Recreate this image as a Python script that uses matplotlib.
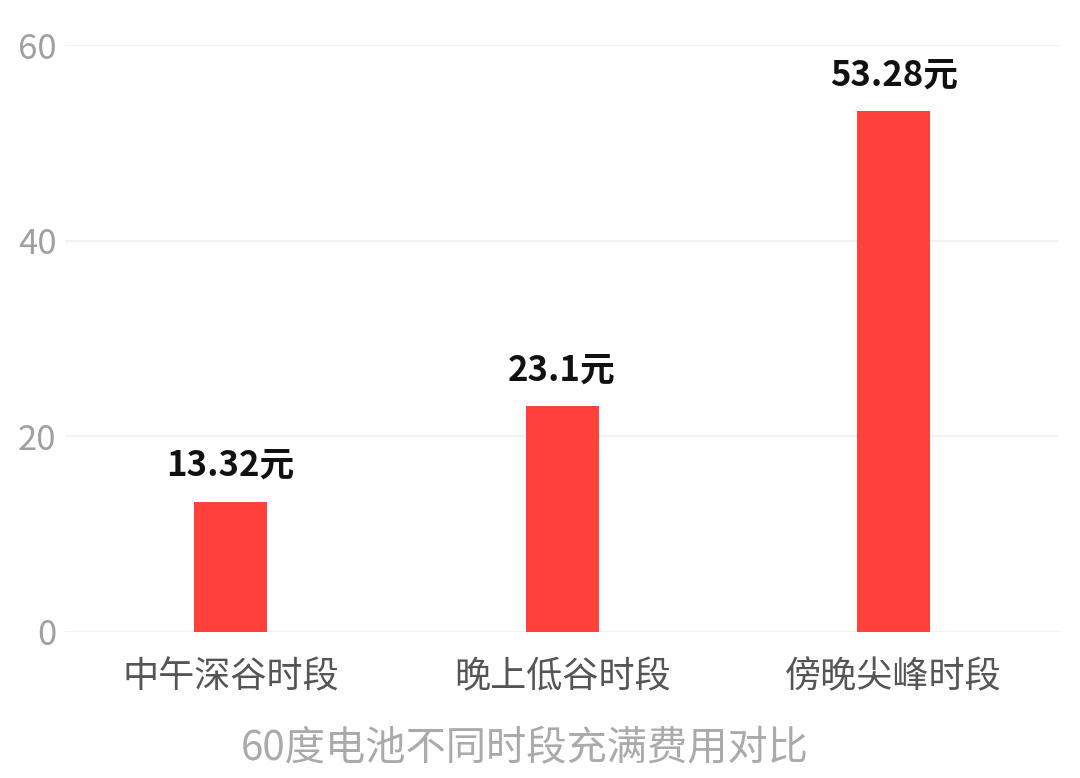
import matplotlib
matplotlib.use("Agg")
import matplotlib.pyplot as plt

plt.rcParams["font.family"] = ["Noto Sans CJK SC", "DejaVu Sans"]

# data
periods = ["中午深谷时段", "晚上低谷时段", "傍晚尖峰时段"]
costs = [13.32, 23.1, 53.28]
cost_labels = ["13.32元", "23.1元", "53.28元"]
y_ticks = [0, 20, 40, 60]

fig = plt.figure(figsize=(10.8, 7.78), dpi=100)
ax = fig.add_axes([0.06, 0.188, 0.921, 0.754])

x = range(len(periods))
ax.bar(x, costs, width=0.22, color="#ff403b", zorder=3)

for xi, val, lab in zip(x, costs, cost_labels):
    ax.text(xi, val + 1.9, lab, ha="center", va="bottom",
            fontsize=25, fontweight="bold", color="#111111")

ax.set_xlim(-0.5, 2.5)
ax.set_ylim(0, 60)
ax.set_yticks(y_ticks)
ax.set_xticks(list(x))
ax.set_xticklabels(periods, fontsize=26, color="#555555")
ax.tick_params(axis="y", labelsize=25, labelcolor="#a0a0a0", length=0, pad=6)
ax.tick_params(axis="x", length=0, pad=20)
ax.grid(axis="y", color="#f2f2f2", linewidth=1.5, zorder=0)
for s in ax.spines.values():
    s.set_visible(False)

ax.set_xlabel("60度电池不同时段充满费用对比", fontsize=29, color="#aaaaaa")
ax.xaxis.set_label_coords(0.462, -0.165)

fig.savefig("out.png", dpi=100)
